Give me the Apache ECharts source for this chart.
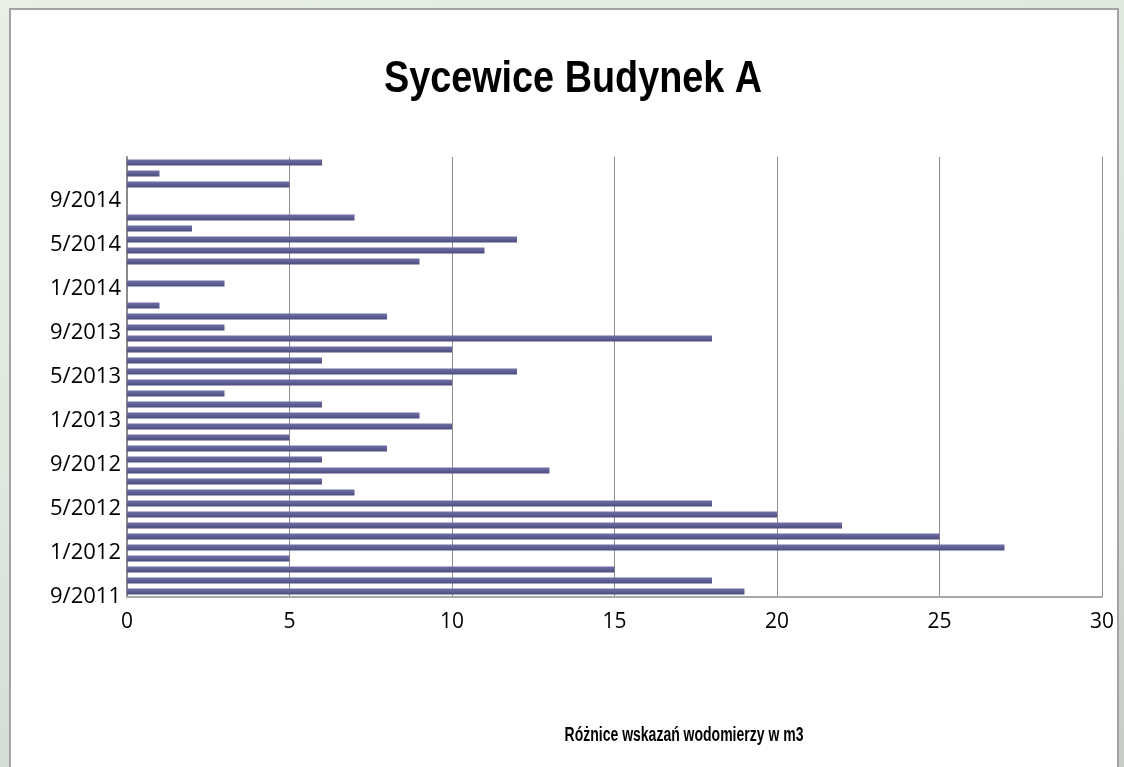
<!DOCTYPE html>
<html>
<head>
<meta charset="utf-8">
<script src="https://cdn.jsdelivr.net/npm/echarts@6/dist/echarts.min.js"></script>
<style>
  html, body { margin: 0; padding: 0; width: 1124px; height: 767px; overflow: hidden; }
  body {
    background: linear-gradient(160deg, #e9efe6 0%, #dfe9e0 40%, #c9cbc8 100%);
    position: relative;
  }
  #panel {
    position: absolute; left: 9px; top: 8px; width: 1110px; height: 770px;
    box-sizing: border-box; background: #fff;
    border-left: 2px solid #a3a3a3; border-top: 2px solid #a3a3a3; border-right: 2px solid #a3a3a3;
  }
  #chart { width: 1106px; height: 768px; }
</style>
</head>
<body>
<div id="panel"><div id="chart"></div></div>
<script>
// months from 9/2011 to 12/2014 (bottom to top)
const months = [
  '9/2011', '10/2011', '11/2011', '12/2011',
  '1/2012', '2/2012', '3/2012', '4/2012', '5/2012', '6/2012', '7/2012', '8/2012', '9/2012', '10/2012', '11/2012', '12/2012',
  '1/2013', '2/2013', '3/2013', '4/2013', '5/2013', '6/2013', '7/2013', '8/2013', '9/2013', '10/2013', '11/2013', '12/2013',
  '1/2014', '2/2014', '3/2014', '4/2014', '5/2014', '6/2014', '7/2014', '8/2014', '9/2014', '10/2014', '11/2014', '12/2014'
]

// water meter differences in m3
const usage = [
  19, 18, 15, 5,
  27, 25, 22, 20, 18, 7, 6, 13, 6, 8, 5, 10,
  9, 6, 3, 10, 12, 6, 10, 18, 3, 8, 1, 0,
  3, 0, 9, 11, 12, 2, 7, 0, 0, 5, 1, 6
]

const chartTitle = 'Sycewice Budynek A'
const axisTitle = 'Różnice wskazań wodomierzy w m3'

const chart = echarts.init(document.getElementById('chart'))

const option = {
  animation: false,
  // titles drawn as graphic text so they can be squeezed like the original narrow font
  graphic: [
    {
      type: 'text',
      x: 562,
      y: 70,
      scaleX: 0.84,
      style: {
        text: chartTitle,
        fontFamily: 'Liberation Sans',
        fontWeight: 'bold',
        fontSize: 45,
        fill: '#000',
        align: 'center',
        verticalAlign: 'middle'
      }
    },
    {
      type: 'text',
      x: 673,
      y: 725,
      scaleX: 0.7,
      style: {
        text: axisTitle,
        fontFamily: 'Liberation Sans',
        fontWeight: 'bold',
        fontSize: 20,
        fill: '#000',
        align: 'center',
        verticalAlign: 'middle'
      }
    }
  ],
  grid: {
    left: 116,
    right: 15,
    top: 147,
    bottom: 181
  },
  xAxis: {
    type: 'value',
    min: 0,
    max: 30,
    interval: 5,
    axisLine: { show: true, lineStyle: { color: '#a8a8a8', width: 2 } },
    axisTick: { show: false },
    splitLine: { lineStyle: { color: '#8e8e8e', width: 1 } },
    axisLabel: { fontFamily: 'Open Sans', fontSize: 21, color: '#000', margin: 15 }
  },
  yAxis: {
    type: 'category',
    data: months,
    axisLine: { show: true, lineStyle: { color: '#8a8a8a', width: 2 } },
    axisTick: { show: false },
    axisLabel: {
      interval: 3,
      fontFamily: 'Open Sans',
      fontSize: 22,
      color: '#000',
      margin: 6,
      verticalAlign: 'top',
      lineHeight: 10
    }
  },
  series: [
    {
      type: 'bar',
      data: usage,
      barWidth: 6,
      itemStyle: {
        color: new echarts.graphic.LinearGradient(0, 0, 0, 1, [
          { offset: 0, color: '#7070a8' },
          { offset: 1, color: '#4c4c7e' }
        ])
      }
    }
  ]
}

chart.setOption(option)
</script>
</body>
</html>
